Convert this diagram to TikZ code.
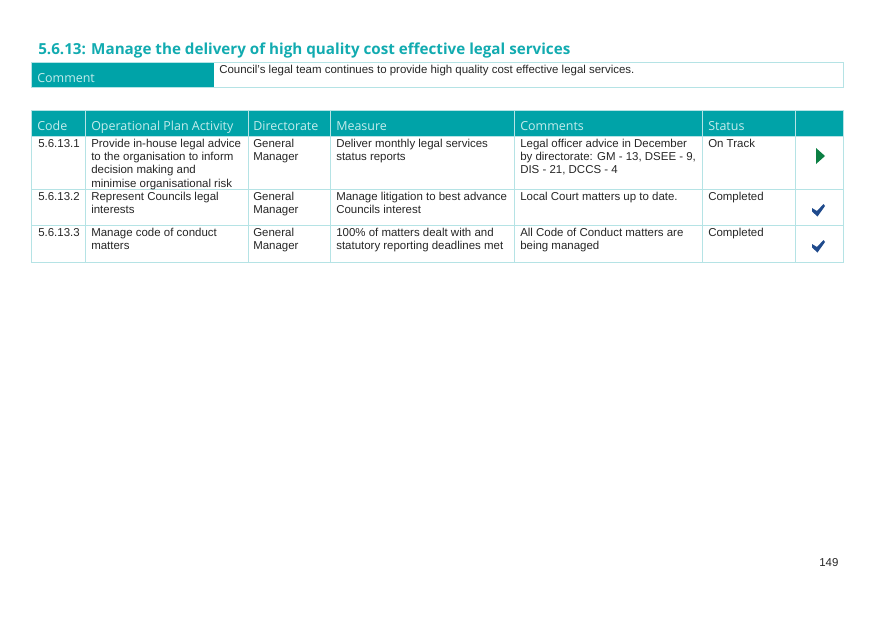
\documentclass[tikz,border=0pt]{standalone}
\usepackage{fontspec}
\setmainfont{Liberation Sans}
\newfontfamily\headfont{Open Sans}
\definecolor{tealfill}{HTML}{00A3A8}
\definecolor{tealrule}{HTML}{B5E3E5}
\definecolor{tealtitle}{HTML}{12ABB0}
\definecolor{headtext}{HTML}{C4ECEC}
\definecolor{trackgreen}{HTML}{0B7F43}
\definecolor{tickblue}{HTML}{1F4A8C}
\tikzset{
    celltext/.style={anchor=north west,inner sep=0pt,align=left,text=black!85,
        font=\fontsize{8.6}{9.9}\selectfont},
    headtext/.style={anchor=base west,inner sep=0pt,text=headtext,
        font=\headfont\fontsize{9.35}{11}\selectfont},
    gridline/.style={draw=tealrule,line width=0.6pt},
}
\begin{document}
\begin{tikzpicture}[x=0.75pt,y=-0.75pt]
    \useasboundingbox (0,0) rectangle (875,619);
    % title
    \node[anchor=base west,inner sep=0pt,text=tealtitle,font=\headfont\bfseries\fontsize{11.4}{14}\selectfont]
        (title) at (38,54) {5.6.13: Manage the delivery of high quality cost effective legal services};
    % comment bar
    \fill[tealfill]
        (31.7,62.7) rectangle (214,87.7);
    \draw[gridline]
        (31.7,62.7) rectangle (843,87.7);
    \node[headtext] (commentlabel) at (37,82) {Comment};
    \node[celltext] (commenttext) at (219,65) {Council's legal team continues to provide high quality cost effective legal services.};
    % table header
    \fill[tealfill]
        (31.7,110) rectangle (843,136);
    % table rules
    \draw[gridline]
        (31.7,110) rectangle (843,262);
    \draw[gridline]
        (31.7,136)--(843,136);
    \draw[gridline]
        (31.7,189)--(843,189);
    \draw[gridline]
        (31.7,225)--(843,225);
    \foreach \colx in {85,248,330,514,702,795}
        \draw[gridline] (\colx,110)--(\colx,262);
    % header labels
    \node[headtext] (codehead) at (37,130) {Code};
    \node[headtext] (activityhead) at (91,130) {Operational Plan Activity};
    \node[headtext] (directoratehead) at (253,130) {Directorate};
    \node[headtext] (measurehead) at (336,130) {Measure};
    \node[headtext] (commentshead) at (520,130) {Comments};
    \node[headtext] (statushead) at (708,130) {Status};
    % row 1
    \node[celltext] (codea) at (38,139) {5.6.13.1};
    \node[celltext] (activitya) at (91,139) {Provide in-house legal advice\\to the organisation to inform\\decision making and\\minimise organisational risk};
    \node[celltext] (directoratea) at (253,139) {General\\Manager};
    \node[celltext] (measurea) at (336,139) {Deliver monthly legal services\\status reports};
    \node[celltext] (commentsa) at (520,139) {Legal officer advice in December\\by directorate: GM - 13, DSEE - 9,\\DIS - 21, DCCS - 4};
    \node[celltext] (statusa) at (708,139) {On Track};
    % row 2
    \node[celltext] (codeb) at (38,192) {5.6.13.2};
    \node[celltext] (activityb) at (91,192) {Represent Councils legal\\interests};
    \node[celltext] (directorateb) at (253,192) {General\\Manager};
    \node[celltext] (measureb) at (336,192) {Manage litigation to best advance\\Councils interest};
    \node[celltext] (commentsb) at (520,192) {Local Court matters up to date.};
    \node[celltext] (statusb) at (708,192) {Completed};
    % row 3
    \node[celltext] (codec) at (38,228) {5.6.13.3};
    \node[celltext] (activityc) at (91,228) {Manage code of conduct\\matters};
    \node[celltext] (directoratec) at (253,228) {General\\Manager};
    \node[celltext] (measurec) at (336,228) {100\% of matters dealt with and\\statutory reporting deadlines met};
    \node[celltext] (commentsc) at (520,228) {All Code of Conduct matters are\\being managed};
    \node[celltext] (statusc) at (708,228) {Completed};
    % status marks
    \fill[trackgreen]
        (816,148)--(825,156)--(816,164)--cycle;
    \fill[tickblue]
        (812,208)--(817,211)--(823.5,204)--(825,206)--(817.5,216.5)--(812,211.5)--cycle;
    \fill[tickblue]
        (812,244)--(817,247)--(823.5,240)--(825,242)--(817.5,252.5)--(812,247.5)--cycle;
    % page number
    \node[celltext] (pagenum) at (819,558) {149};
\end{tikzpicture}
\end{document}
